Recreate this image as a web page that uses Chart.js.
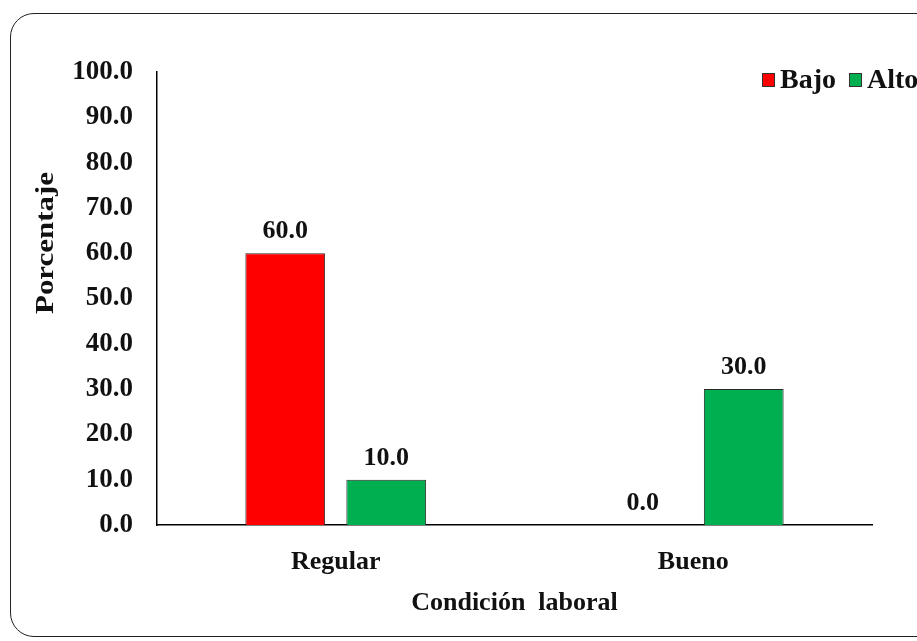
<!DOCTYPE html>
<html lang="es">
<head>
<meta charset="utf-8">
<title>Condición laboral</title>
<script src="https://cdn.jsdelivr.net/npm/chart.js@4/dist/chart.umd.min.js"></script>
<style>
    html, body { margin: 0; padding: 0; background: #fff; overflow: hidden; }
    #marco {
        position: absolute;
        left: 10px;
        top: 13px;
        width: 1000px;
        height: 624px;
        border: 1.5px solid #222;
        border-radius: 24px;
        box-sizing: border-box;
    }
    #contenedor { position: absolute; left: 0; top: 0; width: 960px; height: 641px; }
</style>
</head>
<body>
<div id="marco"></div>
<div id="contenedor"><canvas id="grafico"></canvas></div>
<script>
const categorias = ["Regular", "Bueno"];
const bajo = [60.0, 0.0];
const alto = [10.0, 30.0];
const etiquetasEjeY = [0, 10, 20, 30, 40, 50, 60, 70, 80, 90, 100];

const fuente = `"Liberation Serif", "Times New Roman", serif`;
const colorTexto = `#111`;

let chart;

window.onload = aoCarregarPagina;

function aoCarregarPagina() {
    const ctx = document.querySelector("#grafico");
    chart = criarGrafico(ctx);
}

// numeros sobre cada barra, con un decimal
const etiquetasDeValor = {
    id: "etiquetasDeValor",
    afterDatasetsDraw(chart) {
        const c = chart.ctx;
        c.save();
        c.font = `bold 26px ${fuente}`;
        c.fillStyle = colorTexto;
        c.textAlign = "center";
        c.textBaseline = "alphabetic";
        chart.data.datasets.forEach((ds, i) => {
            chart.getDatasetMeta(i).data.forEach((barra, j) => {
                c.fillText(ds.data[j].toFixed(1), barra.x, barra.y - 15);
            });
        });
        c.restore();
    }
};

// titulo del eje Y, algo estirado y por encima del centro
const tituloEjeY = {
    id: "tituloEjeY",
    afterDraw(chart) {
        const c = chart.ctx;
        c.save();
        c.translate(46, 243);
        c.rotate(-Math.PI / 2);
        c.scale(1.19, 1);
        c.font = `bold 26px ${fuente}`;
        c.fillStyle = colorTexto;
        c.textAlign = "center";
        c.textBaseline = "middle";
        c.fillText("Porcentaje", 0, 0);
        c.restore();
    }
};

// leyenda arriba a la derecha, dentro del area del grafico
const leyenda = {
    id: "leyenda",
    afterDraw(chart) {
        const c = chart.ctx;
        c.save();
        c.font = `bold 28px ${fuente}`;
        c.textBaseline = "middle";
        c.textAlign = "left";
        let x = 762;
        const y = 80;
        chart.data.datasets.forEach(ds => {
            c.fillStyle = ds.backgroundColor;
            c.fillRect(x, y - 7, 13, 14);
            c.strokeStyle = "#333";
            c.lineWidth = 1;
            c.strokeRect(x + 0.5, y - 6.5, 12, 13);
            c.fillStyle = colorTexto;
            c.fillText(ds.label, x + 18, y + 1);
            x += 18 + c.measureText(ds.label).width + 13;
        });
        c.restore();
    }
};

function criarGrafico(ctx) {
    return new Chart(ctx, {
        type: "bar",
        data: {
            labels: categorias,
            datasets: [
                {
                    label: "Bajo",
                    data: bajo,
                    backgroundColor: "#FF0000",
                    borderColor: "#2a2a2a",
                    borderWidth: 1,
                    categoryPercentage: 0.565,
                    barPercentage: 0.79
                },
                {
                    label: "Alto",
                    data: alto,
                    backgroundColor: "#00B050",
                    borderColor: "#2a2a2a",
                    borderWidth: 1,
                    categoryPercentage: 0.565,
                    barPercentage: 0.79
                }
            ]
        },
        options: {
            responsive: true,
            maintainAspectRatio: false,
            animation: false,
            layout: { padding: { left: 0, top: 72, right: 88, bottom: 0 } },
            plugins: {
                legend: { display: false },
                tooltip: { enabled: false }
            },
            scales: {
                x: {
                    grid: { display: false, drawTicks: false },
                    border: { display: true, color: "#000", width: 1.5 },
                    ticks: {
                        color: colorTexto,
                        padding: 22,
                        font: { family: fuente, size: 26, weight: "bold" }
                    },
                    title: {
                        display: true,
                        text: "Condición  laboral",
                        color: colorTexto,
                        padding: { top: 0, bottom: 22 },
                        font: { family: fuente, size: 26, weight: "bold" }
                    },
                    afterFit(scale) { scale.height = 116; }
                },
                y: {
                    min: 0,
                    max: 100,
                    grid: { display: false, drawTicks: false },
                    border: { display: true, color: "#000", width: 1.5 },
                    afterBuildTicks(scale) {
                        scale.ticks = etiquetasEjeY.map(v => ({ value: v }));
                    },
                    ticks: {
                        color: colorTexto,
                        padding: 24,
                        callback: v => Number(v).toFixed(1),
                        font: { family: fuente, size: 27, weight: "bold" }
                    },
                    afterFit(scale) { scale.width = 157; }
                }
            }
        },
        plugins: [etiquetasDeValor, tituloEjeY, leyenda]
    });
}
</script>
</body>
</html>
